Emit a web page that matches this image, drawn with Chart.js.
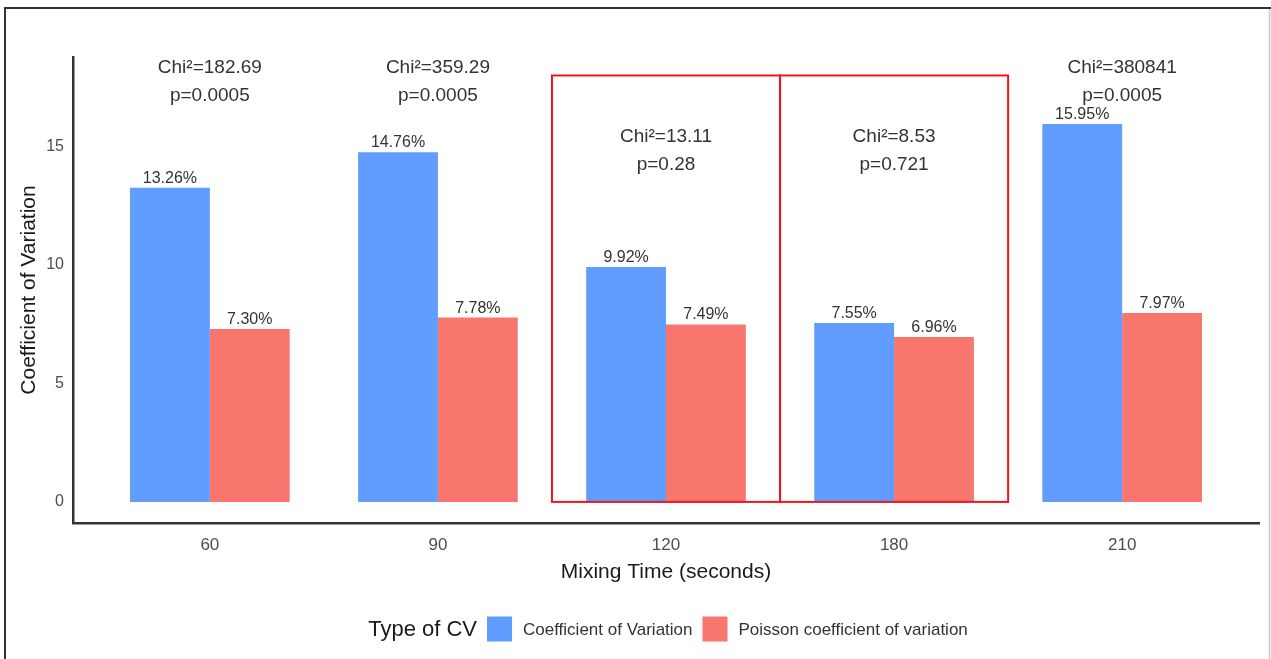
<!DOCTYPE html>
<html>
<head>
<meta charset="utf-8">
<title>Coefficient of Variation by Mixing Time</title>
<script src="https://cdn.jsdelivr.net/npm/chart.js@4.4.1/dist/chart.umd.min.js"></script>
<style>
    html, body { margin: 0; padding: 0; background: #fff; }
    #wrap { width: 1271px; height: 659px; }
</style>
</head>
<body>
<div id="wrap"><canvas id="cvChart" width="1271" height="659"></canvas></div>
<script>
// Data
const mixingTimes = ['60', '90', '120', '180', '210'];
const cvValues = [13.26, 14.76, 9.92, 7.55, 15.95];
const poissonValues = [7.30, 7.78, 7.49, 6.96, 7.97];
const chiLabels = ['Chi²=182.69', 'Chi²=359.29', 'Chi²=13.11', 'Chi²=8.53', 'Chi²=380841'];
const pLabels = ['p=0.0005', 'p=0.0005', 'p=0.28', 'p=0.721', 'p=0.0005'];
const boxedTimes = ['120', '180'];
const yTicks = [0, 5, 10, 15];

const FONT = '"Liberation Sans", Arial, Helvetica, sans-serif';
Chart.defaults.font.family = FONT;

const extras = {
    id: 'cvExtras',
    beforeDraw(chart) {
        const ctx = chart.ctx;
        ctx.save();
        ctx.fillStyle = '#fff';
        ctx.fillRect(0, 0, chart.width, chart.height);
        // picture frame
        ctx.strokeStyle = '#333';
        ctx.lineWidth = 2;
        ctx.beginPath();
        ctx.moveTo(4, 8); ctx.lineTo(chart.width, 8);
        ctx.moveTo(5, 7); ctx.lineTo(5, chart.height);
        ctx.stroke();
        ctx.strokeStyle = '#c8c8c8';
        ctx.lineWidth = 1.5;
        ctx.beginPath();
        ctx.moveTo(1269.5, 9); ctx.lineTo(1269.5, chart.height);
        ctx.stroke();
        ctx.restore();
    },
    afterDatasetsDraw(chart) {
        const ctx = chart.ctx;
        const xs = chart.scales.x, ys = chart.scales.y;
        ctx.save();

        // value labels over the bars
        ctx.font = '16px ' + FONT;
        ctx.fillStyle = '#333';
        ctx.textAlign = 'center';
        ctx.textBaseline = 'alphabetic';
        chart.data.datasets.forEach((ds, di) => {
            chart.getDatasetMeta(di).data.forEach((bar, i) => {
                ctx.fillText(ds.data[i].y.toFixed(2) + '%', bar.x, bar.y - 5);
            });
        });

        // red boxes round the non-significant groups
        ctx.strokeStyle = '#f0141e';
        ctx.lineWidth = 2;
        mixingTimes.forEach((t, i) => {
            if (!boxedTimes.includes(t)) return;
            const x1 = xs.getPixelForValue(i - 0.5);
            const x2 = xs.getPixelForValue(i + 0.5);
            const y1 = ys.getPixelForValue(18);
            const y2 = ys.getPixelForValue(0);
            ctx.strokeRect(x1, y1, x2 - x1, y2 - y1);
        });

        // chi-square annotations
        ctx.font = '19px ' + FONT;
        ctx.fillStyle = '#333';
        mixingTimes.forEach((t, i) => {
            const boxed = boxedTimes.includes(t);
            const cx = xs.getPixelForValue(i);
            ctx.fillText(chiLabels[i], cx, ys.getPixelForValue(boxed ? 15.19 : 18.1));
            ctx.fillText(pLabels[i], cx, ys.getPixelForValue(boxed ? 14.0 : 16.92));
        });
        ctx.restore();
    },
    afterDraw(chart) {
        // inline legend: title then the two keys
        const ctx = chart.ctx;
        const cy = 629, sq = 25;
        ctx.save();
        ctx.textBaseline = 'middle';
        ctx.textAlign = 'left';
        const title = 'Type of CV';
        ctx.font = '22px ' + FONT;
        const tw = ctx.measureText(title).width;
        ctx.font = '17px ' + FONT;
        const items = chart.data.datasets.map(ds => ({
            text: ds.label, color: ds.backgroundColor, w: ctx.measureText(ds.label).width
        }));
        let total = tw;
        items.forEach(it => { total += 10 + sq + 11 + it.w; });
        let x = 668 - total / 2;
        ctx.font = '22px ' + FONT;
        ctx.fillStyle = '#1a1a1a';
        ctx.fillText(title, x, cy + 1);
        x += tw;
        ctx.font = '17px ' + FONT;
        items.forEach(it => {
            x += 10;
            ctx.fillStyle = it.color;
            ctx.fillRect(x, cy - sq / 2, sq, sq);
            x += sq + 11;
            ctx.fillStyle = '#333';
            ctx.fillText(it.text, x, cy + 1);
            x += it.w;
        });
        ctx.restore();
    }
};

const ctx = document.getElementById('cvChart');
new Chart(ctx, {
    type: 'bar',
    data: {
        datasets: [{
            label: 'Coefficient of Variation',
            data: cvValues.map((v, i) => ({ x: i, y: v })),
            backgroundColor: '#619CFF',
            borderWidth: 0,
            categoryPercentage: 0.7,
            barPercentage: 1.0
        }, {
            label: 'Poisson coefficient of variation',
            data: poissonValues.map((v, i) => ({ x: i, y: v })),
            backgroundColor: '#F8766D',
            borderWidth: 0,
            categoryPercentage: 0.7,
            barPercentage: 1.0
        }]
    },
    options: {
        responsive: false,
        animation: false,
        devicePixelRatio: 1,
        layout: { padding: { left: 0, top: 57, right: 12, bottom: 69 } },
        plugins: {
            legend: { display: false },
            tooltip: { enabled: false }
        },
        scales: {
            x: {
                type: 'linear',
                min: -0.6,
                max: 4.6,
                offset: false,
                afterBuildTicks: axis => { axis.ticks = mixingTimes.map((_, i) => ({ value: i })); },
                afterFit: scale => { scale.height = 67; },
                ticks: {
                    callback: v => mixingTimes[v],
                    autoSkip: false,
                    maxRotation: 0,
                    color: '#4d4d4d',
                    font: { size: 17 },
                    padding: 12
                },
                grid: { display: false, drawTicks: false },
                border: { display: true, color: '#333', width: 2.5 },
                title: {
                    display: true,
                    text: 'Mixing Time (seconds)',
                    color: '#1a1a1a',
                    font: { size: 21 },
                    padding: { top: 0, bottom: 5 }
                }
            },
            y: {
                min: -0.89,
                max: 18.78,
                afterBuildTicks: axis => { axis.ticks = yTicks.map(v => ({ value: v })); },
                afterFit: scale => { scale.width = 73; },
                ticks: {
                    color: '#4d4d4d',
                    font: { size: 16 },
                    padding: 9
                },
                grid: { display: false, drawTicks: false },
                border: { display: true, color: '#333', width: 2.5 },
                title: {
                    display: true,
                    text: 'Coefficient of Variation',
                    color: '#1a1a1a',
                    font: { size: 21 },
                    padding: { top: 17, bottom: 0 }
                }
            }
        }
    },
    plugins: [extras]
});
</script>
</body>
</html>
